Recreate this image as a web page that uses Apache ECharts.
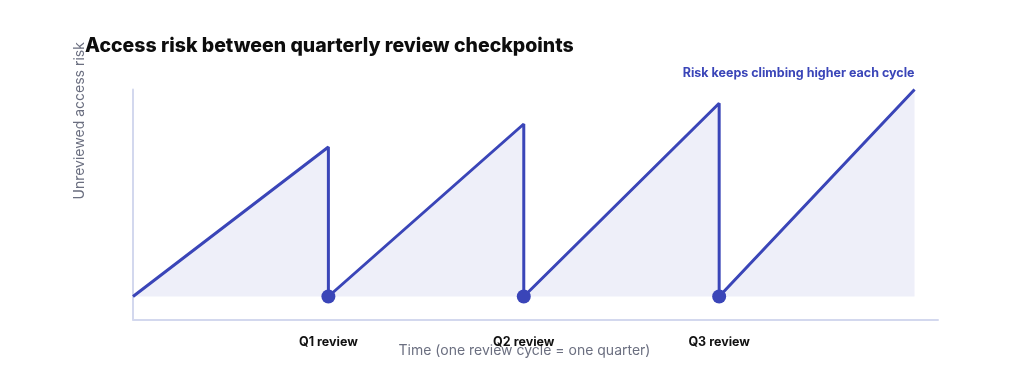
<!DOCTYPE html>
<html>
<head>
<meta charset="utf-8">
<script src="https://cdn.jsdelivr.net/npm/echarts@6/dist/echarts.min.js"></script>
<style>
  html, body { margin: 0; padding: 0; background: #fff; }
  #chart { width: 1024px; height: 382px; }
</style>
</head>
<body>
<div id="chart"></div>
<script>
// chart text
const chartTitle = 'Access risk between quarterly review checkpoints';
const yName = 'Unreviewed access risk';
const xName = 'Time (one review cycle = one quarter)';
const noteText = 'Risk keeps climbing higher each cycle';

// review checkpoints (x position = quarter number)
const reviewLabels = ['Q1 review', 'Q2 review', 'Q3 review'];
const reviewAt = [1, 2, 3];

// risk level right after a review, and the peak reached before each review / at the end
const baseline = 1;
const peaks = [7.5, 8.5, 9.4, 10];

const lineColor = '#3a45b8';

// sawtooth: climb to the peak, drop back to baseline at each review
let riskPath = [[0, baseline]];
for (let i = 0; i < peaks.length; i++) {
    riskPath.push([i + 1, peaks[i]]);
    if (i < reviewAt.length) riskPath.push([reviewAt[i], baseline]);
}
let reviewDots = reviewAt.map(x => [x, baseline]);
let lastPoint = riskPath[riskPath.length - 1];

let chart = echarts.init(document.getElementById('chart'), null, { renderer: 'canvas' });

let option = {
    backgroundColor: '#fff',
    animation: false,
    title: {
        text: chartTitle,
        left: 80,
        top: 31,
        textStyle: {
            fontFamily: 'Inter',
            fontWeight: 800,
            fontSize: 19.5,
            color: '#0d0d0d'
        }
    },
    grid: {
        left: 133,
        right: 86,
        top: 89.5,
        bottom: 62.5
    },
    xAxis: {
        type: 'value',
        min: 0,
        max: 4.12,
        interval: 1,
        name: xName,
        nameLocation: 'middle',
        nameGap: 24,
        nameMoveOverlap: false,
        nameTextStyle: {
            fontFamily: 'Inter',
            fontSize: 14,
            color: '#6b6f80',
            padding: [0, 22, 0, 0]
        },
        axisLine: { show: true, lineStyle: { color: '#d3d8ee', width: 2 } },
        axisTick: { show: false },
        splitLine: { show: false },
        axisLabel: {
            margin: 16,
            showMaxLabel: false,
            fontFamily: 'Inter',
            fontWeight: 700,
            fontSize: 12.5,
            color: '#111',
            formatter: function (v) {
                let idx = reviewAt.indexOf(v);
                return idx >= 0 ? reviewLabels[idx] : '';
            }
        }
    },
    yAxis: {
        type: 'value',
        min: 0,
        max: 10,
        name: yName,
        nameLocation: 'end',
        nameRotate: 90,
        nameGap: -110,
        nameTextStyle: {
            fontFamily: 'Inter',
            fontSize: 14,
            color: '#6b6f80',
            verticalAlign: 'bottom',
            padding: [0, 0, 46, 0]
        },
        axisLine: { show: true, lineStyle: { color: '#d3d8ee', width: 2 } },
        axisTick: { show: false },
        axisLabel: { show: false },
        splitLine: { show: false }
    },
    series: [
        {
            type: 'line',
            data: riskPath,
            showSymbol: false,
            symbol: 'none',
            lineStyle: { color: lineColor, width: 3 },
            areaStyle: { color: '#eeeff9', opacity: 1, origin: baseline },
            z: 2
        },
        {
            type: 'scatter',
            data: reviewDots,
            symbolSize: 14,
            itemStyle: { color: lineColor, opacity: 1 },
            z: 3
        },
        {
            type: 'scatter',
            data: [lastPoint],
            symbolSize: 0,
            silent: true,
            itemStyle: { color: lineColor, opacity: 1 },
            label: {
                show: true,
                formatter: noteText,
                position: 'top',
                align: 'right',
                distance: 10,
                fontFamily: 'Inter',
                fontWeight: 700,
                fontSize: 12.5,
                color: lineColor
            },
            z: 4
        }
    ]
};

chart.setOption(option);
</script>
</body>
</html>
